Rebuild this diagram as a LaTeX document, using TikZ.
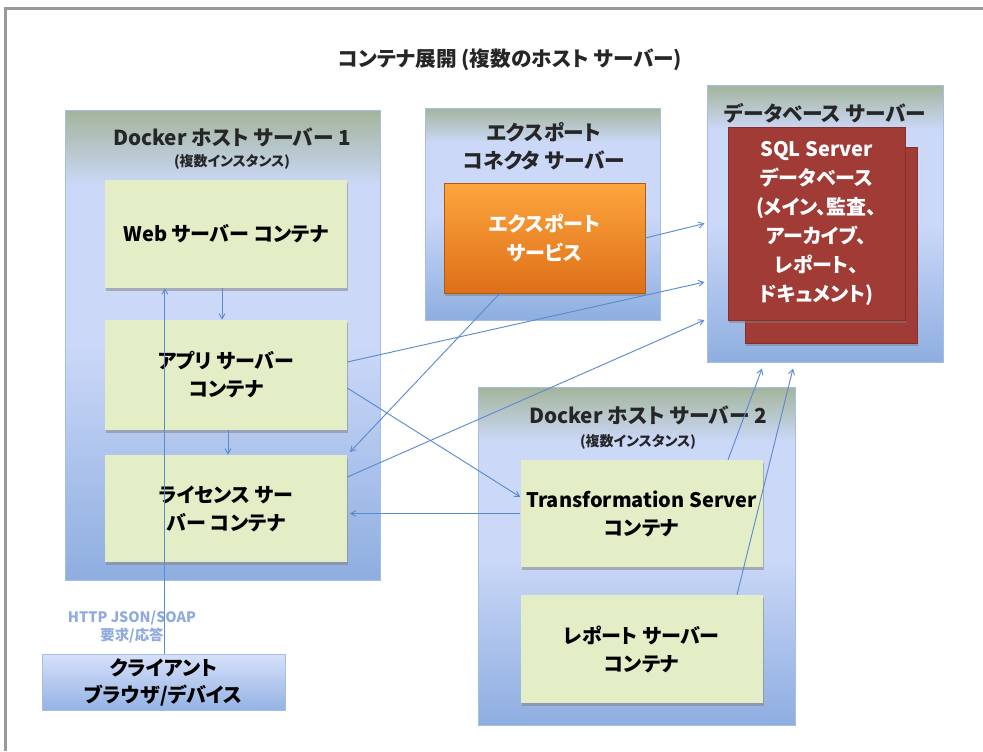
\documentclass[tikz,border=0pt]{standalone}
\usepackage{fontspec}
\setmainfont{Noto Sans CJK JP}[RawFeature=+palt]
\usepackage{tikz}
\usetikzlibrary{shapes, arrows, positioning, shadows}
\definecolor{flecha}{HTML}{5B8BCF}
\definecolor{srvtop}{HTML}{A3B49B}
\definecolor{srvmid}{HTML}{CBD8F8}
\definecolor{srvbot}{HTML}{8EAEE0}
\definecolor{srvborde}{HTML}{A6BDE4}
\definecolor{verde}{HTML}{E3EEC6}
\definecolor{naranjatop}{HTML}{FDA63E}
\definecolor{naranjabot}{HTML}{DE6F18}
\definecolor{rojo}{HTML}{A13B36}
\definecolor{rojoborde}{HTML}{86302C}
\definecolor{clitop}{HTML}{D6E0FA}
\definecolor{clibot}{HTML}{93B2E3}
\definecolor{etiqueta}{HTML}{8FAADC}
\pgfdeclareverticalshading{degradado}{100bp}{color(0bp)=(srvbot); color(25bp)=(srvbot); color(50bp)=(srvmid); color(67bp)=(srvmid); color(75bp)=(srvtop); color(100bp)=(srvtop)}
\tikzstyle{servidor} = [draw=srvborde, line width=0.75pt, shading=degradado, rectangle, inner sep=0pt]
\tikzstyle{contenedor} = [fill=verde, rectangle, minimum width=181.5pt, minimum height=81pt, align=center, font=\fontsize{15}{21}\selectfont\bfseries, drop shadow={shadow xshift=1pt, shadow yshift=-2pt, opacity=0.5}]
\tikzstyle{exportacion} = [top color=naranjatop, bottom color=naranjabot, draw=naranjabot!80!black, rectangle, minimum width=150.75pt, minimum height=82.5pt, align=center, text=white, font=\fontsize{15}{22}\selectfont\bfseries, drop shadow={shadow xshift=1pt, shadow yshift=-2pt, opacity=0.5}]
\tikzstyle{basedatos} = [fill=rojo, draw=rojoborde, rectangle, align=center, text=white, font=\fontsize{15}{21.75}\selectfont\bfseries, drop shadow={shadow xshift=1pt, shadow yshift=-2pt, opacity=0.5}]
\tikzstyle{cliente} = [top color=clitop, bottom color=clibot, draw=srvborde, rectangle, minimum width=182.25pt, minimum height=41.25pt, align=center, font=\fontsize{15}{20}\selectfont\bfseries]
\tikzstyle{titulo} = [align=center, font=\fontsize{15.5}{21}\selectfont\bfseries, text=black!85]
\tikzstyle{subtitulo} = [font=\fontsize{10.5}{12}\selectfont\bfseries, text=black!85]
\tikzstyle{rotulo} = [align=center, text=etiqueta, font=\fontsize{10.8}{14}\selectfont\bfseries]
\tikzstyle{enlace} = [draw=flecha, line width=0.7pt, ->, >=angle 60]

\begin{document}
\begin{tikzpicture}[x=0.75pt, y=-0.75pt]
	\useasboundingbox (0,0) rectangle (983,751);
	\draw[black!40, line width=2.25pt] (5,751) -- (5,8) -- (983,8);
	\node[titulo] (title) at (510,60) {コンテナ展開 (複数のホスト サーバー)};

	\node[servidor, minimum width=236.25pt, minimum height=352.5pt] (host1) at (222.5,345) {};
	\node[titulo] (host1t) at (232,137) {Docker ホスト サーバー 1};
	\node[subtitulo] (host1s) at (232,162) {(複数インスタンス)};
	\node[contenedor] (web) at (226,234) {Web サーバー コンテナ};
	\node[contenedor, minimum height=82.5pt] (app) at (226,375) {アプリ サーバー\\コンテナ};
	\node[contenedor, minimum height=80.25pt] (lic) at (226,508.5) {ライセンス サー\\バー コンテナ};

	\node[servidor, minimum width=176.25pt, minimum height=159pt] (export) at (542.5,214) {};
	\node[titulo] (exportt) at (544,146) {エクスポート\\コネクタ サーバー};
	\node[exportacion] (expsvc) at (544.5,238) {エクスポート\\サービス};

	\node[servidor, minimum width=177pt, minimum height=207.75pt] (db) at (825,223.5) {};
	\node[titulo] (dbt) at (825,113) {データベース サーバー};
	\node[basedatos, minimum width=129pt, minimum height=147pt] (sqlback) at (831,245) {};
	\node[basedatos, minimum width=132.75pt, minimum height=144.75pt] (sql) at (816.5,223.5) {SQL Server\\データベース\\(メイン、監査、\\アーカイブ、\\レポート、\\ドキュメント)};

	\node[servidor, minimum width=237.75pt, minimum height=253.5pt] (host2) at (636.5,556) {};
	\node[titulo] (host2t) at (648,415) {Docker ホスト サーバー 2};
	\node[subtitulo] (host2s) at (638,442) {(複数インスタンス)};
	\node[contenedor, minimum height=80.25pt] (trans) at (641.5,513.5) {Transformation Server\\コンテナ};
	\node[contenedor] (report) at (641.5,649) {レポート サーバー\\コンテナ};

	\node[cliente] (client) at (163.5,682.5) {クライアント\\ブラウザ/デバイス};
	\node[rotulo] (http) at (132,627) {HTTP JSON/SOAP\\要求/応答};

	\draw[enlace] ([xshift=1pt]client.north) -- ([xshift=1pt]client.north |- web.south);
	\draw[enlace] ([xshift=-3pt]web.south) -- ([xshift=-3pt]app.north);
	\draw[enlace] ([xshift=1.5pt]app.south) -- ([xshift=1.5pt]lic.north);
	\draw[enlace] (expsvc.east) -- ([xshift=-1.5pt]db.west);
	\draw[enlace] ([yshift=9.75pt]app.east) -- ([xshift=-1.5pt, yshift=-43.9pt]db.west);
	\draw[enlace] ([yshift=23.6pt]lic.east) -- ([xshift=-1.5pt, yshift=-72.4pt]db.west);
	\draw[enlace] ([xshift=-33.4pt]expsvc.south) -- ([xshift=2pt, yshift=2pt]lic.north east);
	\draw[enlace] ([yshift=-9.75pt]app.east) -- ([yshift=12.4pt]trans.west);
	\draw[enlace] (trans.west) -- ([xshift=2pt]trans.west -| lic.east);
	\draw[enlace] ([xshift=64.9pt]trans.north) -- ([xshift=-47.25pt, yshift=-4.5pt]db.south);
	\draw[enlace] ([xshift=71.6pt]report.north) -- ([xshift=-24pt, yshift=-4.5pt]db.south);
\end{tikzpicture}
\end{document}
